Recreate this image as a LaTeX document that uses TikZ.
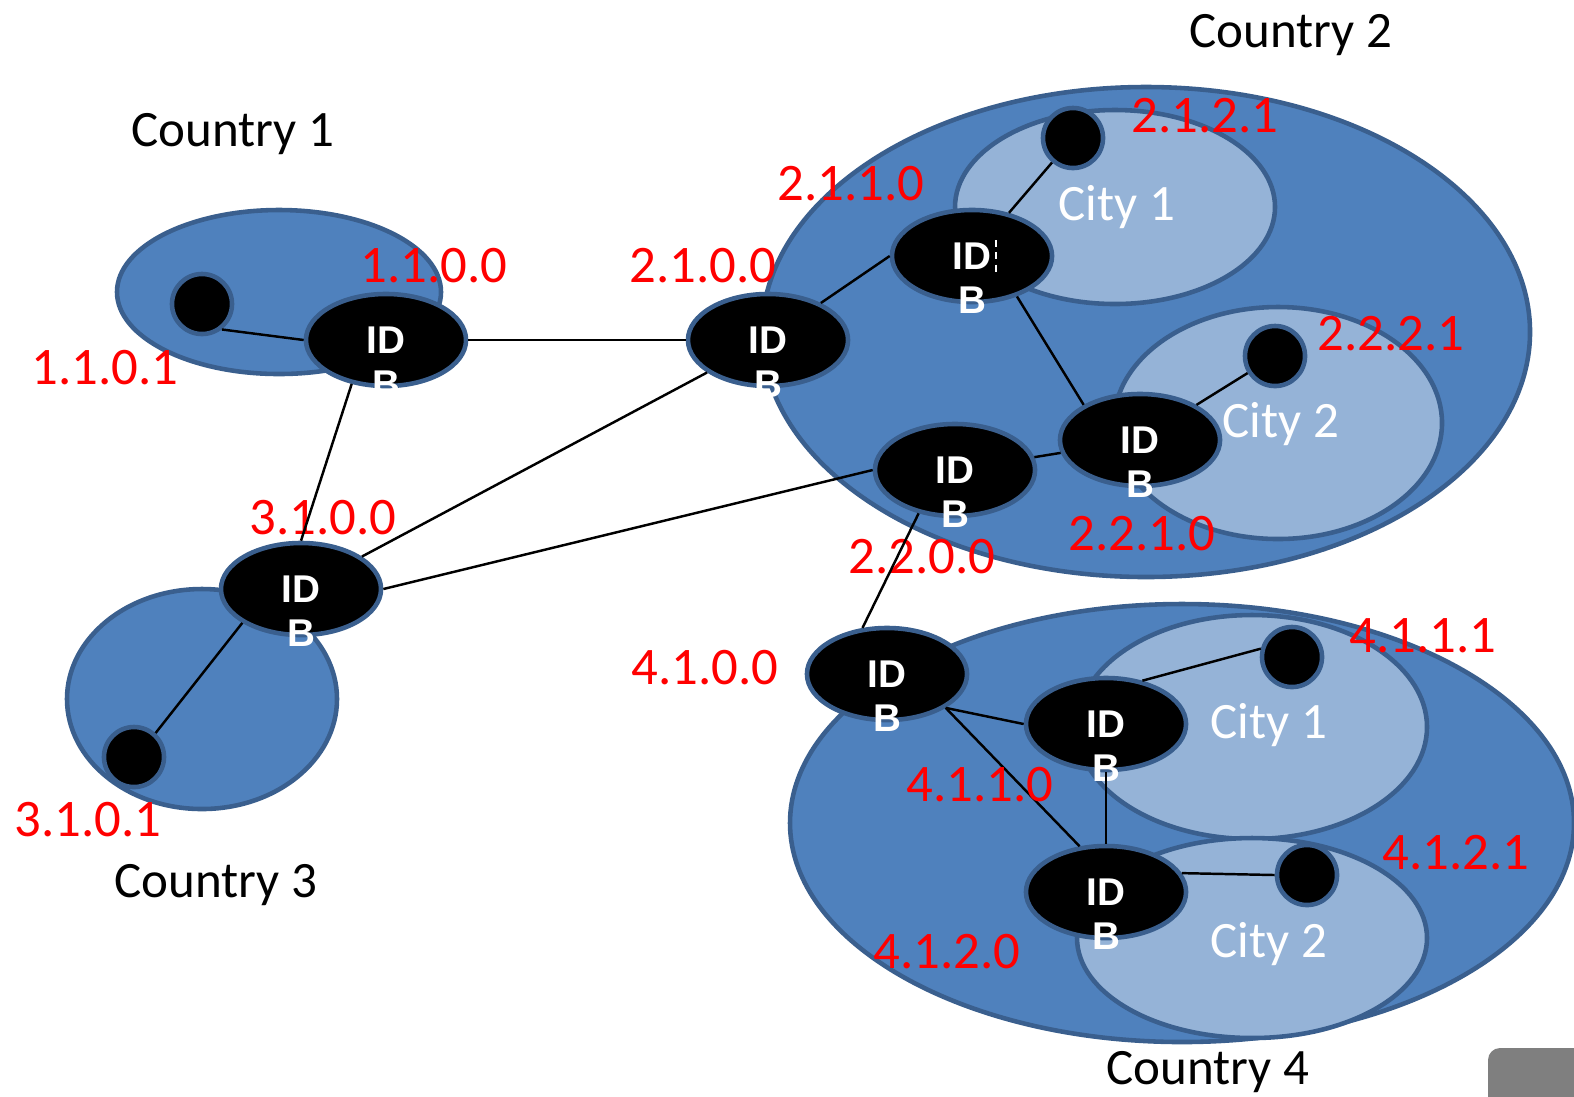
\documentclass[tikz,border=0pt]{standalone}
\usepackage{fontspec}
\setmainfont{Carlito}
\newfontfamily\idfont{Liberation Sans}
\usetikzlibrary{shapes.geometric}
\definecolor{countryblue}{HTML}{4F81BD}
\definecolor{cityblue}{HTML}{95B3D7}
\definecolor{rimblue}{HTML}{3A5F8E}
\definecolor{tabgray}{HTML}{7F7F7F}
\tikzset{
    region/.style = {draw=rimblue, line width=1.3pt},
    country/.style = {region, fill=countryblue},
    city/.style = {region, fill=cityblue},
    idtext/.style = {text=white, font=\idfont\bfseries\fontsize{11}{12}\selectfont},
    cityname/.style = {text=white, font=\fontsize{14.5}{16}\selectfont, inner sep=0pt},
    router/.style = {ellipse, fill=black, draw=rimblue, line width=1.3pt,
        minimum width=1.6cm, minimum height=0.92cm, inner sep=0pt, idtext,
        label={[idtext, inner sep=0pt, yshift=-0.44cm]center:B}},
    host/.style = {circle, fill=black, draw=rimblue, line width=1.3pt,
        minimum size=0.6cm, inner sep=0pt},
    addr/.style = {text=red, font=\fontsize{15}{16}\selectfont, inner sep=0pt},
    place/.style = {font=\fontsize{14.5}{16}\selectfont, inner sep=0pt},
    link/.style = {line width=0.7pt},
}
\begin{document}
\begin{tikzpicture}[x=0.01cm, y=-0.01cm]
    \useasboundingbox (0,0) rectangle (1574,1096);
    \clip (0,0) rectangle (1574,1096);
    \begin{scope}[name prefix = c1-]
        \filldraw [country] (279,292) ellipse [x radius=162, y radius=82];
        \node [host] (H) at (202,304) {};
        \node [router] (R) at (386,340) {ID};
        \draw [link] (H.-52) -- (R.west);
        \node [place] (name) at (233,134) {Country 1};
        \node [addr] (R-addr) at (434,266) {1.1.0.0};
        \node [addr] (H-addr) at (105,368) {1.1.0.1};
    \end{scope}
    \begin{scope}[name prefix = c2-]
        \filldraw [country] (1146,332) ellipse [x radius=384, y radius=245];
        \filldraw [city] (1115,207) ellipse [x radius=160, y radius=97];
        \filldraw [city] (1278,423) ellipse [x radius=164, y radius=116];
        \node [cityname] (city1) at (1117,207) {City 1};
        \node [cityname] (city2) at (1281,424) {City 2};
        \node [host] (H1) at (1073,138) {};
        \node [host] (H2) at (1275,356) {};
        \node [router] (R1) at (768,340) {ID};
        \node [router] (R2) at (972,256) {ID};
        \node [router] (R3) at (955,470) {ID};
        \node [router] (R4) at (1140,440) {ID};
        \draw [link] (R1.35) -- (R2.west);
        \draw [link] (R2) -- (H1);
        \draw [link] (R2.-42) -- (R4.148);
        \draw [link] (R4) -- (H2);
        \draw [link] (R3) -- (R4);
        \draw [white, dash pattern=on 2pt off 1.5pt, line width=0.4pt] ([xshift=0.24cm, yshift=0.16cm]R2.center) -- ++(0,32);
        \node [place] (name) at (1291,35) {Country 2};
        \node [addr] (R1-addr) at (703,266) {2.1.0.0};
        \node [addr] (R2-addr) at (851,184) {2.1.1.0};
        \node [addr] (R3-addr) at (922,557) {2.2.0.0};
        \node [addr] (R4-addr) at (1142,534) {2.2.1.0};
        \node [addr] (H1-addr) at (1205,116) {2.1.2.1};
        \node [addr] (H2-addr) at (1391,334) {2.2.2.1};
    \end{scope}
    \begin{scope}[name prefix = c3-]
        \filldraw [country] (202,699) ellipse [x radius=135, y radius=110];
        \node [host] (H) at (134,757) {};
        \node [router] (R) at (301,589) {ID};
        \draw [link] (R.-150) -- (H.48);
        \node [place] (name) at (216,885) {Country 3};
        \node [addr] (R-addr) at (323,518) {3.1.0.0};
        \node [addr] (H-addr) at (88,820) {3.1.0.1};
    \end{scope}
    \begin{scope}[name prefix = c4-]
        \filldraw [country] (1182,823) ellipse [x radius=392, y radius=219];
        \filldraw [city] (1252,727) ellipse [x radius=175, y radius=112];
        \filldraw [city] (1252,938) ellipse [x radius=175, y radius=100];
        \node [cityname] (city1) at (1269,725) {City 1};
        \node [cityname] (city2) at (1269,944) {City 2};
        \node [host] (H1) at (1292,657) {};
        \node [host] (H2) at (1307,875) {};
        \node [router] (R1) at (887,674) {ID};
        \node [router] (R2) at (1106,724) {ID};
        \node [router] (R3) at (1106,892) {ID};
        \draw [link] (R1.-30) -- (R2.west);
        \draw [link] (R1.-30) -- (R3.120);
        \draw [link] (R2) -- (R3);
        \draw [link] (R2.50) -- (H1.165);
        \draw [link] (R3.14) -- (H2.west);
        \node [place] (name) at (1208,1072) {Country 4};
        \node [addr] (R1-addr) at (705,668) {4.1.0.0};
        \node [addr] (R2-addr) at (980,785) {4.1.1.0};
        \node [addr] (R3-addr) at (947,952) {4.1.2.0};
        \node [addr] (H1-addr) at (1423,636) {4.1.1.1};
        \node [addr] (H2-addr) at (1456,853) {4.1.2.1};
    \end{scope}

    \draw [link] (c1-R) -- (c2-R1);
    \draw [link] (c1-R.-128) -- (c3-R.north);
    \draw [link] (c2-R1) -- (c3-R);
    \draw [link] (c2-R3.west) -- (c3-R.east);
    \draw [link] (c2-R3.-130) -- (c4-R1.118);

    \fill [tabgray, rounded corners=0.12cm] (1488,1048) rectangle (1640,1150);
\end{tikzpicture}
\end{document}
